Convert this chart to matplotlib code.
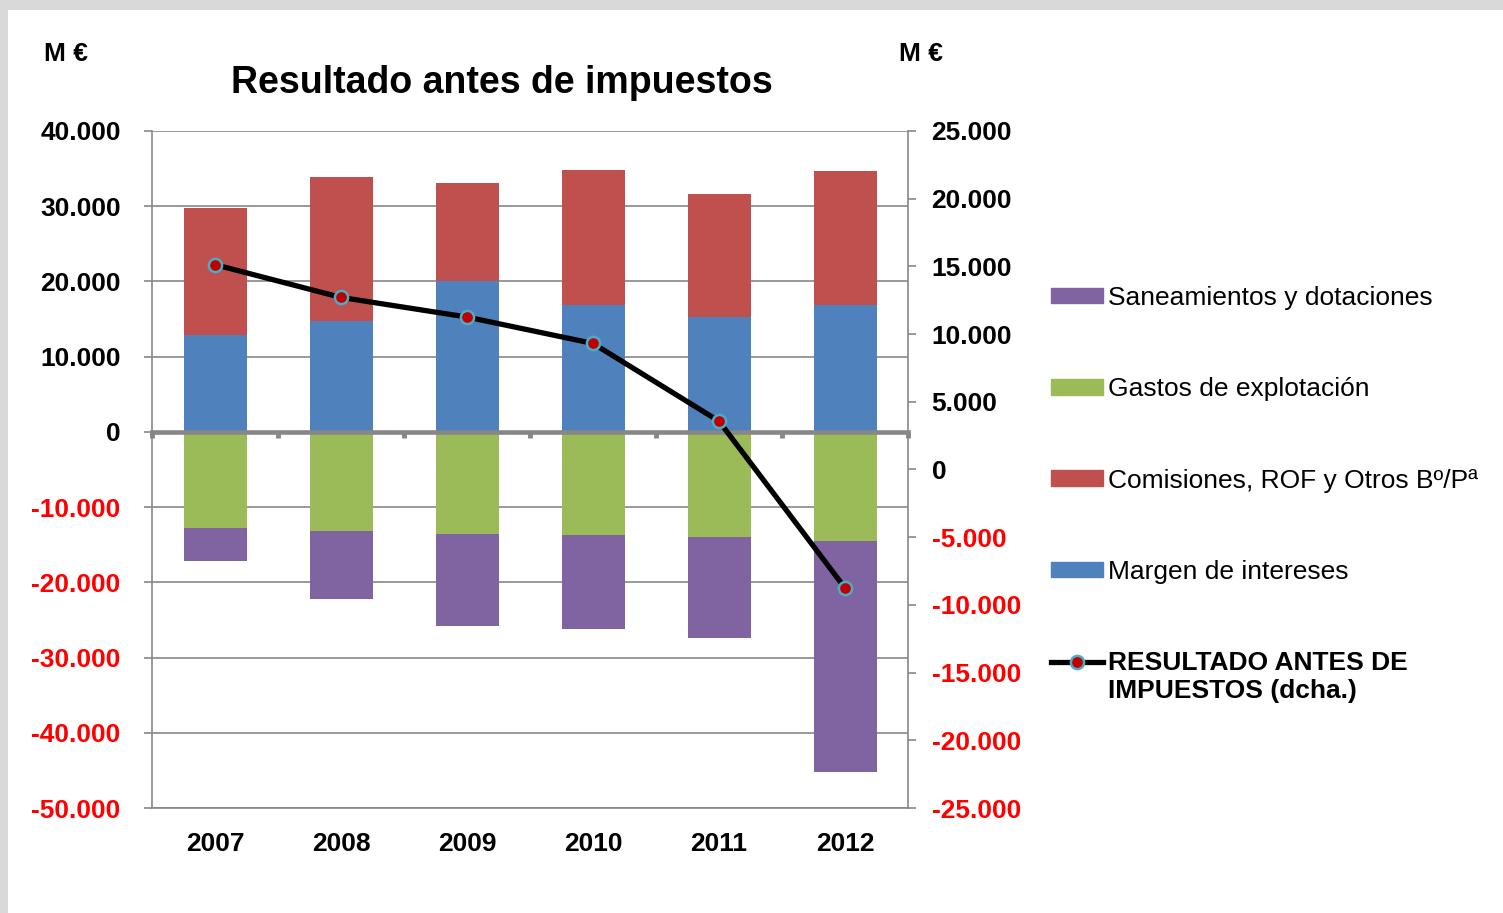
import matplotlib
matplotlib.use('Agg')
import matplotlib.pyplot as plt
from matplotlib.patches import Rectangle, Patch
from matplotlib.lines import Line2D
import numpy as np

# ---- data ----
years = ['2007', '2008', '2009', '2010', '2011', '2012']
margen = [12920, 14690, 20090, 16910, 15260, 16810]
comisiones = [16810, 19250, 13020, 17920, 16430, 17890]
gastos = [-12760, -13200, -13510, -13690, -13960, -14570]
saneamientos = [-4380, -8990, -12310, -12520, -13410, -30680]
resultado = [15130, 12710, 11260, 9310, 3570, -8750]

left_ticks = [40000, 30000, 20000, 10000, 0, -10000, -20000, -30000, -40000, -50000]
left_labels = ['40.000', '30.000', '20.000', '10.000', '0', '-10.000', '-20.000',
               '-30.000', '-40.000', '-50.000']
right_ticks = [25000, 20000, 15000, 10000, 5000, 0, -5000, -10000, -15000, -20000, -25000]
right_labels = ['25.000', '20.000', '15.000', '10.000', '5.000', '0', '-5.000', '-10.000',
                '-15.000', '-20.000', '-25.000']

legend_labels = ['Saneamientos y dotaciones', 'Gastos de explotación',
                 'Comisiones, ROF y Otros Bº/Pª', 'Margen de intereses',
                 'RESULTADO ANTES DE']
legend_label_cont = 'IMPUESTOS (dcha.)'

C_BLUE = '#4F81BD'
C_RED = '#C0504D'
C_GREEN = '#9BBB59'
C_PURPLE = '#8064A2'
C_GRID = '#878787'

plt.rcParams['font.family'] = ['Liberation Sans', 'DejaVu Sans']

W, H = 1503, 913
fig = plt.figure(figsize=(W / 100, H / 100), dpi=100, facecolor='#d9d9d9')
fig.patches.append(Rectangle((8 / W, 0), 1, 1 - 10 / H, transform=fig.transFigure,
                             facecolor='white', edgecolor='none', zorder=-5))

ax = fig.add_axes([152 / W, 1 - 808 / H, 756 / W, 677 / H])
ax.set_facecolor('none')

# spine setup first (repositioning resets ticks)
ax.spines['top'].set_position(('data', 0))
ax.spines['top'].set_color(C_GRID)
ax.spines['top'].set_linewidth(3.3)
for s in ['left', 'bottom']:
    ax.spines[s].set_color(C_GRID)
    ax.spines[s].set_linewidth(1.2)
ax.spines['right'].set_visible(False)

x = np.arange(len(years))
bw = 0.5
ax.bar(x, margen, bw, color=C_BLUE, zorder=1)
ax.bar(x, comisiones, bw, bottom=margen, color=C_RED, zorder=1)
ax.bar(x, gastos, bw, color=C_GREEN, zorder=1)
ax.bar(x, saneamientos, bw, bottom=gastos, color=C_PURPLE, zorder=1)

ax.set_xlim(-0.5, len(years) - 0.5)
ax.set_ylim(-50000, 40000)
ax.set_yticks(left_ticks, left_labels)
ax.yaxis.grid(True, color=C_GRID, lw=1.2)
ax.set_axisbelow(True)

ax.set_xticks(x)
ax.set_xticks(np.arange(-0.5, len(years), 1), minor=True)
ax.tick_params(axis='x', which='major', bottom=True, top=False, length=0,
               labelbottom=True, labeltop=False, pad=17, labelsize=19)
ax.tick_params(axis='x', which='minor', bottom=False, top=True, direction='in',
               length=4, width=3.5, color=C_GRID, labeltop=False, labelbottom=False)
ax.set_xticklabels(years, fontweight='bold', fontsize=19)

ax.tick_params(axis='y', direction='out', length=6, width=1.2, color=C_GRID,
               pad=16.5, labelsize=19)
for t, v in zip(ax.get_yticklabels(), left_ticks):
    t.set_fontweight('bold')
    t.set_color('#FF0000' if v < 0 else 'black')

ax2 = ax.twinx()
ax2.set_ylim(-25000, 25000)
ax2.set_yticks(right_ticks, right_labels)
ax2.plot(x, resultado, color='black', lw=3.8, marker='o', ms=9.5,
         mfc='#C00000', mec='#4BACC6', mew=1.8, zorder=5)
for s in ['left', 'top', 'bottom']:
    ax2.spines[s].set_visible(False)
ax2.spines['right'].set_color(C_GRID)
ax2.spines['right'].set_linewidth(1.2)
ax2.tick_params(axis='y', direction='out', length=6, width=1.2, color=C_GRID,
                pad=11, labelsize=19)
for t, v in zip(ax2.get_yticklabels(), right_ticks):
    t.set_fontweight('bold')
    t.set_color('#FF0000' if v < 0 else 'black')

fig.text(502 / W, 1 - 83 / H, 'Resultado antes de impuestos', ha='center', va='center',
         fontsize=27, fontweight='bold')
fig.text(66 / W, 1 - 54 / H, 'M €', ha='center', va='center', fontsize=19, fontweight='bold')
fig.text(921 / W, 1 - 54 / H, 'M €', ha='center', va='center', fontsize=19, fontweight='bold')

handles = [Patch(color=C_PURPLE), Patch(color=C_GREEN), Patch(color=C_RED), Patch(color=C_BLUE),
           Line2D([], [], color='black', lw=3.8, marker='o', ms=9.5, mfc='#C00000',
                  mec='#4BACC6', mew=1.8)]
leg = fig.legend(handles, legend_labels, loc='upper left',
                 bbox_to_anchor=(1051 / W, 1 - 286 / H), frameon=False, fontsize=19,
                 handlelength=1.97, handleheight=0.53, handletextpad=0.19,
                 labelspacing=2.55, borderpad=0, borderaxespad=0)
leg.get_texts()[4].set_fontweight('bold')
fig.text(1108 / W, 1 - 691 / H, legend_label_cont, ha='left', va='center',
         fontsize=19, fontweight='bold')

fig.savefig('out.png', dpi=100, facecolor=fig.get_facecolor())
